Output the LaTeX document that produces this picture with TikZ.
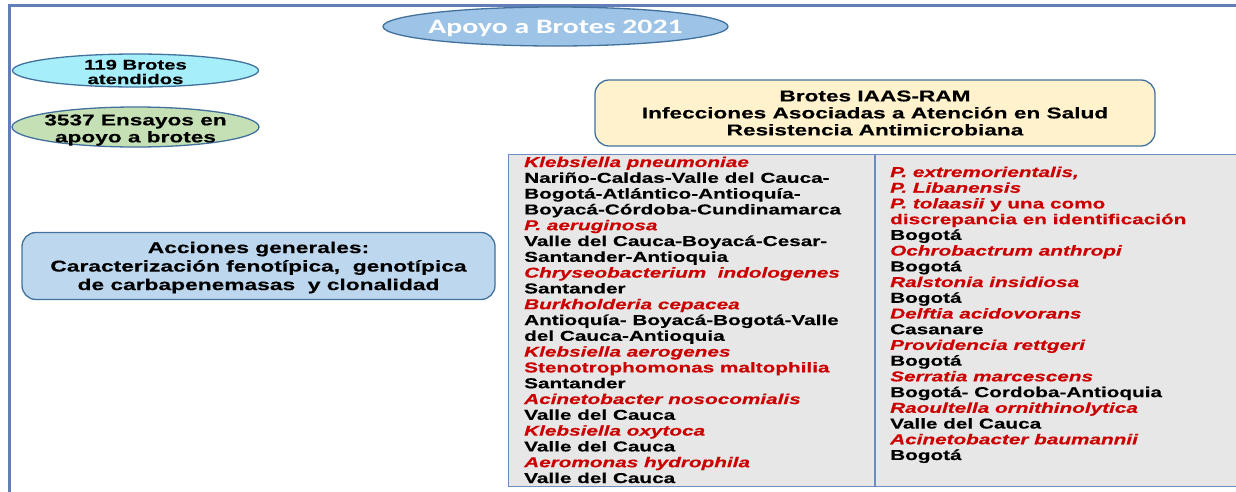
\documentclass[tikz,border=0pt]{standalone}
\usepackage{fontspec}
\setmainfont{Liberation Sans}[FakeStretch=1.45, BoldFeatures={FakeBold=0.35}, BoldItalicFeatures={FakeBold=0.35}]
\newfontfamily\titlefont{Carlito}[FakeStretch=1.45]
\usetikzlibrary{shapes.geometric}
\definecolor{frameblue}{RGB}{98,126,184}
\definecolor{eborder}{RGB}{65,113,156}
\definecolor{titlefill}{RGB}{157,195,230}
\definecolor{cyanfill}{RGB}{165,238,250}
\definecolor{greenfill}{RGB}{197,224,180}
\definecolor{yellowfill}{RGB}{255,242,204}
\definecolor{accfill}{RGB}{189,215,238}
\definecolor{tablefill}{RGB}{231,231,231}
\definecolor{tableborder}{RGB}{108,142,191}
\definecolor{myred}{RGB}{204,0,0}
\newcommand\rit[1]{\textcolor{myred}{\itshape #1}}
\newcommand\rup[1]{\textcolor{myred}{#1}}
\tikzset{
  oval/.style={ellipse, draw=eborder, line width=1.3pt, inner sep=0pt},
  rbox/.style={rectangle, rounded corners=14pt, draw=eborder, line width=1.3pt, inner sep=0pt, align=center},
  cell/.style={inner sep=0pt, font=\fontsize{14.3}{15.8}\selectfont\bfseries},
}
\begin{document}
\begin{tikzpicture}[x=1pt,y=-1pt]
\useasboundingbox (0,0) rectangle (1236,491);
\clip (0,0) rectangle (1236,491);
% outer frame
\draw[frameblue, line width=3pt] (9,5.5) rectangle (1260,520);
% title
\node[oval, fill=titlefill, minimum width=345pt, minimum height=39pt,
  label={[align=center, yshift=-1.5pt, text=white, font=\titlefont\fontsize{20.5}{22}\selectfont\bfseries]center:Apoyo a Brotes 2021}] (title) at (555.5,26.5) {};
\node[oval, fill=cyanfill, minimum width=246pt, minimum height=33pt,
  label={[align=center, yshift=-1.5pt, font=\fontsize{14}{14.5}\selectfont\bfseries]center:119 Brotes\\atendidos}] (brotes) at (135.5,70.5) {};
\node[oval, fill=greenfill, minimum width=247pt, minimum height=40pt,
  label={[align=center, yshift=-3pt, font=\fontsize{15.6}{17}\selectfont\bfseries]center:3537 Ensayos en\\apoyo a brotes}] (ensayos) at (135.5,127) {};
\node[rbox, fill=yellowfill, minimum width=560pt, minimum height=66pt,
  font=\fontsize{15.6}{17}\selectfont\bfseries] (iaas) at (875,113) {Brotes IAAS-RAM\\Infecciones Asociadas a Atención en Salud\\Resistencia Antimicrobiana};
\node[rbox, fill=accfill, minimum width=473pt, minimum height=67pt,
  font=\fontsize{15.7}{18.5}\selectfont\bfseries] (acc) at (258.5,266) {};
\node[align=center, inner sep=0pt, font=\fontsize{15.7}{18.5}\selectfont\bfseries] (acctext) at (258.5,267.5) {Acciones generales:\\Caracterización fenotípica,~ genotípica\\de carbapenemasas~ y clonalidad};
% table
\node[rectangle, draw=tableborder, fill=tablefill, line width=1.3pt, anchor=north west,
  minimum width=760pt, minimum height=332pt, inner sep=0pt] (table) at (508,154) {};
\coordinate (dtop) at (875,154);
\coordinate (dbot) at (875,486);
\draw[tableborder, line width=1.3pt] (dtop) -- (dbot);
\foreach \t [count=\i] in {
  \rit{Klebsiella pneumoniae},
  Nariño-Caldas-Valle del Cauca-,
  Bogotá-Atlántico-Antioquía-,
  Boyacá-Córdoba-Cundinamarca,
  \rit{P. aeruginosa},
  Valle del Cauca-Boyacá-Cesar-,
  Santander-Antioquia,
  \rit{Chryseobacterium~ indologenes},
  Santander,
  \rit{Burkholderia cepacea},
  Antioquía- Boyacá-Bogotá-Valle,
  del Cauca-Antioquia,
  \rit{Klebsiella aerogenes},
  \rup{Stenotrophomonas maltophilia},
  Santander,
  \rit{Acinetobacter nosocomialis},
  Valle del Cauca,
  \rit{Klebsiella oxytoca},
  Valle del Cauca,
  \rit{Aeromonas hydrophila},
  Valle del Cauca}
  {\node[cell, anchor=base west] (tl\i) at (524,{167+15.8*(\i-1)}) {\t};}
\foreach \t [count=\i] in {
  \rit{P. extremorientalis,},
  \rit{P. Libanensis},
  {\rit{P. tolaasii}\rup{\ y una como}},
  \rup{discrepancia en identificación},
  Bogotá,
  \rit{Ochrobactrum anthropi},
  Bogotá,
  \rit{Ralstonia insidiosa},
  Bogotá,
  \rit{Delftia acidovorans},
  Casanare,
  \rit{Providencia rettgeri},
  Bogotá,
  \rit{Serratia marcescens},
  Bogotá- Cordoba-Antioquia,
  \rit{Raoultella ornithinolytica},
  Valle del Cauca,
  \rit{Acinetobacter baumannii},
  Bogotá}
  {\node[cell, anchor=base west] (tr\i) at (890,{177+15.72*(\i-1)}) {\t};}
\end{tikzpicture}
\end{document}
